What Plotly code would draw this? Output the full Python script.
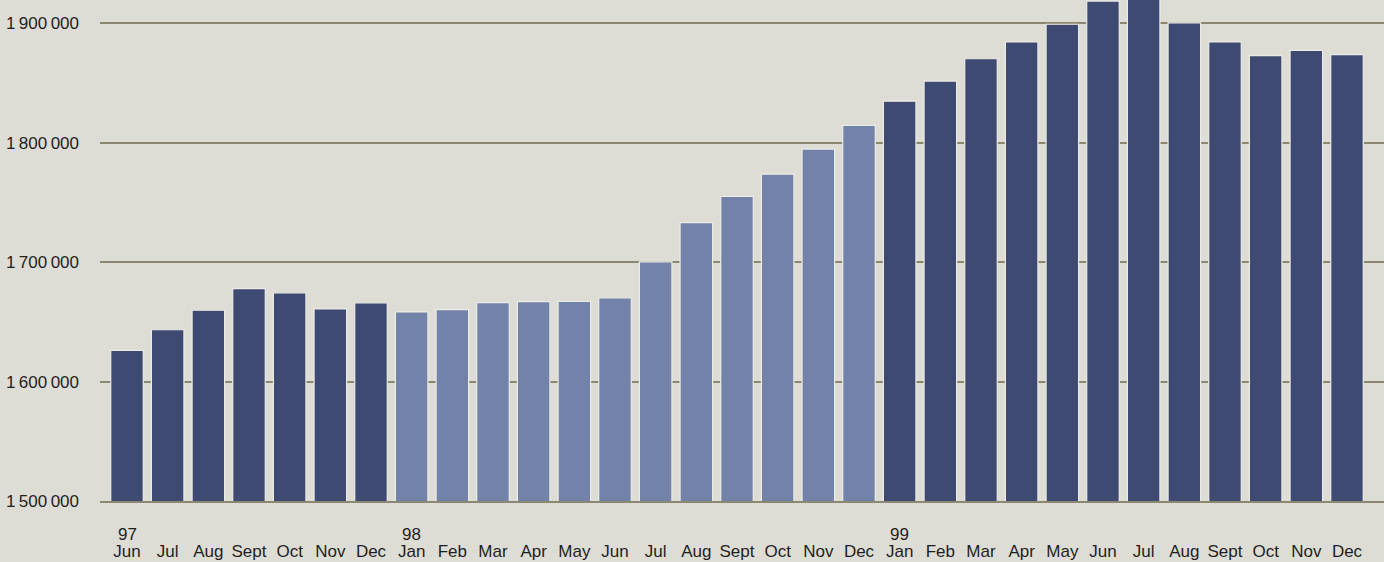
import plotly.graph_objects as go

# ---- data ----
months = ["Jun", "Jul", "Aug", "Sept", "Oct", "Nov", "Dec",
          "Jan", "Feb", "Mar", "Apr", "May", "Jun", "Jul", "Aug", "Sept", "Oct", "Nov", "Dec",
          "Jan", "Feb", "Mar", "Apr", "May", "Jun", "Jul", "Aug", "Sept", "Oct", "Nov", "Dec"]
year_labels = ["97", "98", "99"]
year_start_index = [0, 7, 19]
values = [1626000, 1643400, 1659700, 1677900, 1674300, 1660800, 1665900,
          1658300, 1660300, 1666100, 1667000, 1667200, 1670100, 1700300, 1733100,
          1755000, 1773700, 1794700, 1814600,
          1834800, 1851600, 1870300, 1884400, 1899200, 1918600, 1926000, 1900300,
          1884400, 1872900, 1877300, 1873700]
period = ["a"] * 7 + ["b"] * 12 + ["a"] * 12
y_ticks = [1500000, 1600000, 1700000, 1800000, 1900000]
y_tick_text = ["1\u2009500\u2009000", "1\u2009600\u2009000", "1\u2009700\u2009000",
               "1\u2009800\u2009000", "1\u2009900\u2009000"]

# ---- style ----
BG = "#dddcd5"
DARK = "#3f4a72"
LIGHT = "#7282a8"
GRID = "#8b8770"
TEXT = "#1f1f1f"
FONT = "Liberation Sans"

x = list(range(len(values)))
colors = [DARK if p == "a" else LIGHT for p in period]

fig = go.Figure(go.Bar(
    x=x, y=values,
    marker=dict(color=colors, line=dict(color="#ecebe6", width=1.2)),
    hoverinfo="skip",
))

for lab, idx in zip(year_labels, year_start_index):
    fig.add_annotation(x=idx, y=-0.066, xref="x", yref="paper", text=lab,
                       showarrow=False, yanchor="middle", xanchor="center",
                       font=dict(family=FONT, size=17, color=TEXT))

fig.update_layout(
    width=1384, height=562,
    margin=dict(l=100, r=0, t=0, b=61, pad=0),
    paper_bgcolor=BG, plot_bgcolor=BG,
    bargap=0.2,
    showlegend=False,
    xaxis=dict(
        range=[-0.664, 30.91],
        tickmode="array", tickvals=x, ticktext=months,
        tickfont=dict(family=FONT, size=17, color=TEXT),
        showgrid=False, zeroline=False,
        showline=True, linecolor=GRID, linewidth=1.5,
        ticks="", ticklabelstandoff=34, automargin=False,
    ),
    yaxis=dict(
        range=[1500000, 1919500],
        tickmode="array", tickvals=y_ticks, ticktext=y_tick_text,
        tickfont=dict(family=FONT, size=17, color=TEXT),
        showgrid=True, gridcolor=GRID, gridwidth=1.5,
        zeroline=False, showline=False, ticks="",
        ticklabelstandoff=20, automargin=False,
    ),
)

fig.write_html("out.html",
               config={"displayModeBar": False},
               post_script="document.body.style.margin='0';document.body.style.overflow='hidden';")
